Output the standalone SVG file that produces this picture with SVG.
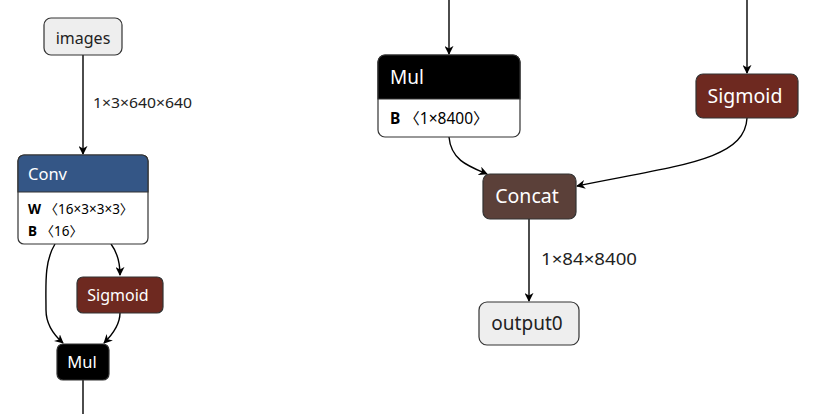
<svg xmlns="http://www.w3.org/2000/svg" width="814" height="414" viewBox="0 0 814 414">
<style>
text{font-family:"Noto Sans","Open Sans","Liberation Sans","Noto Sans CJK SC",sans-serif;}
.box{stroke:#333;stroke-width:1.2;}
.io{fill:#eeeeee;}
.wt{fill:#fff;}
.e{fill:none;stroke:#000;stroke-width:1.4;}
</style>
<defs>
<marker id="ar" viewBox="0 0 10 10" refX="9" refY="5" markerWidth="9" markerHeight="9" markerUnits="userSpaceOnUse" orient="auto">
<path d="M0,0 L10,5 L0,10 L3,5 z" fill="#000"/>
</marker>
</defs>
<rect width="814" height="414" fill="#fff"/>
<g id="connectors">
<path class="e" d="M83,55 V154" marker-end="url(#ar)"/>
<path class="e" d="M55,244 C44,262 46,285 46,310 C46,325 55,336 63,343" marker-end="url(#ar)"/>
<path class="e" d="M111,244 C117,252 120,262 120,275" marker-end="url(#ar)"/>
<path class="e" d="M120,313 C120,325 112,335 104,343" marker-end="url(#ar)"/>
<path class="e" d="M83,380 V414"/>
<path class="e" d="M449,0 V54" marker-end="url(#ar)"/>
<path class="e" d="M747,0 V73" marker-end="url(#ar)"/>
<path class="e" d="M449,137 C451,160 468,166 487,174" marker-end="url(#ar)"/>
<path class="e" d="M747,118 C745,160 680,165 577,186" marker-end="url(#ar)"/>
<path class="e" d="M529,219 V301" marker-end="url(#ar)"/>
<text x="93" y="108" font-size="14" fill="#222" textLength="99" lengthAdjust="spacingAndGlyphs">1×3×640×640</text>
<text x="541" y="265" font-size="16.5" fill="#222" textLength="96" lengthAdjust="spacingAndGlyphs">1×84×8400</text>
</g>
<g id="images">
<rect class="box io" x="44" y="18" width="78" height="37" rx="7"/>
<text x="83" y="44" font-size="16" text-anchor="middle" fill="#222">images</text>
</g>
<g id="conv">
<rect class="box wt" x="18" y="155" width="130" height="89" rx="6"/>
<path d="M18,192 V161 a6,6 0 0 1 6,-6 H142 a6,6 0 0 1 6,6 V192 z" fill="#345686" stroke="#333" stroke-width="1.2"/>
<text x="28" y="180" font-size="16.5" fill="#fff">Conv</text>
<text x="28" y="214" font-size="13.5" fill="#000"><tspan font-weight="bold">W</tspan> 〈16×3×3×3〉</text>
<text x="28" y="236" font-size="13.5" fill="#000"><tspan font-weight="bold">B</tspan> 〈16〉</text>
</g>
<g id="sigmoid1">
<rect class="box" x="77" y="277" width="86" height="36" rx="6" fill="#6e2920"/>
<text x="118" y="301" font-size="16" text-anchor="middle" fill="#fff">Sigmoid</text>
</g>
<g id="mul1">
<rect class="box" x="57" y="344" width="52" height="36" rx="6" fill="#000"/>
<text x="82" y="368" font-size="16.5" text-anchor="middle" fill="#fff">Mul</text>
</g>
<g id="mul2">
<rect class="box wt" x="378" y="55" width="142" height="82" rx="7"/>
<path d="M378,99 V62 a7,7 0 0 1 7,-7 H513 a7,7 0 0 1 7,7 V99 z" fill="#000" stroke="#333" stroke-width="1.2"/>
<text x="390" y="84" font-size="19" fill="#fff">Mul</text>
<text x="390" y="124" font-size="15.5" fill="#000"><tspan font-weight="bold">B</tspan> 〈1×8400〉</text>
</g>
<g id="sigmoid2">
<rect class="box" x="696" y="74" width="102" height="44" rx="7" fill="#6e2920"/>
<text x="745" y="103" font-size="19.5" text-anchor="middle" fill="#fff">Sigmoid</text>
</g>
<g id="concat">
<rect class="box" x="483" y="174" width="93" height="45" rx="7" fill="#5b4039"/>
<text x="527" y="203" font-size="19.5" text-anchor="middle" fill="#fff">Concat</text>
</g>
<g id="output0">
<rect class="box io" x="479" y="302" width="100" height="43" rx="8"/>
<text x="527" y="330" font-size="19" text-anchor="middle" fill="#222">output0</text>
</g>
</svg>
